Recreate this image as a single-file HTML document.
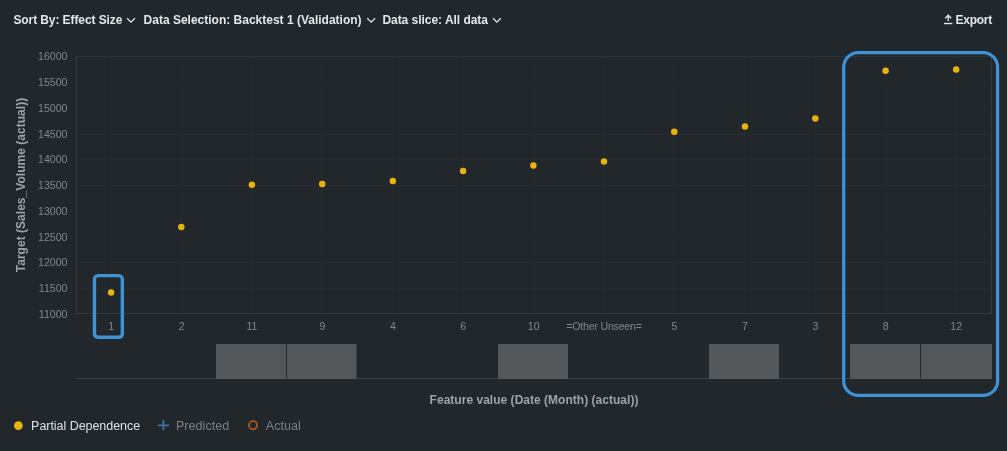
<!DOCTYPE html>
<html><head><meta charset="utf-8"><title>Partial Dependence</title>
<style>
html,body{margin:0;padding:0;background:#22272b;}
body{width:1007px;height:451px;overflow:hidden;font-family:"Liberation Sans",sans-serif;}
svg{display:block}
text{font-family:"Liberation Sans",sans-serif;}
.hd{font-size:12px;font-weight:bold;fill:#e4e7e9;}
.tk{font-size:10.6px;fill:#80868a;}
.ax{font-size:12px;font-weight:bold;fill:#9da3a8;}
.lg{font-size:12.5px;}
</style></head><body>
<svg width="1007" height="451" viewBox="0 0 1007 451">
<rect width="1007" height="451" fill="#22272b"/>
<g stroke="#262b2f" stroke-width="1" shape-rendering="crispEdges"><line x1="76" x2="992" y1="82.5" y2="82.5"/><line x1="76" x2="992" y1="108.5" y2="108.5"/><line x1="76" x2="992" y1="134.5" y2="134.5"/><line x1="76" x2="992" y1="159.5" y2="159.5"/><line x1="76" x2="992" y1="185.5" y2="185.5"/><line x1="76" x2="992" y1="211.5" y2="211.5"/><line x1="76" x2="992" y1="237.5" y2="237.5"/><line x1="76" x2="992" y1="262.5" y2="262.5"/><line x1="76" x2="992" y1="288.5" y2="288.5"/><line x1="111.5" x2="111.5" y1="56" y2="314"/><line x1="181.5" x2="181.5" y1="56" y2="314"/><line x1="251.5" x2="251.5" y1="56" y2="314"/><line x1="322.5" x2="322.5" y1="56" y2="314"/><line x1="392.5" x2="392.5" y1="56" y2="314"/><line x1="463.5" x2="463.5" y1="56" y2="314"/><line x1="533.5" x2="533.5" y1="56" y2="314"/><line x1="604.5" x2="604.5" y1="56" y2="314"/><line x1="674.5" x2="674.5" y1="56" y2="314"/><line x1="744.5" x2="744.5" y1="56" y2="314"/><line x1="815.5" x2="815.5" y1="56" y2="314"/><line x1="885.5" x2="885.5" y1="56" y2="314"/><line x1="956.5" x2="956.5" y1="56" y2="314"/></g>
<path d="M76.5 56v258M76 313.5h916M991.5 56v258" fill="none" stroke="#363b3f" stroke-width="1" shape-rendering="crispEdges"/><path d="M77 56.5h914" fill="none" stroke="#2e3337" stroke-width="1" shape-rendering="crispEdges"/>
<text class="tk" x="67.5" y="60.4" text-anchor="end">16000</text><text class="tk" x="67.5" y="86.1" text-anchor="end">15500</text><text class="tk" x="67.5" y="111.9" text-anchor="end">15000</text><text class="tk" x="67.5" y="137.6" text-anchor="end">14500</text><text class="tk" x="67.5" y="163.3" text-anchor="end">14000</text><text class="tk" x="67.5" y="189.1" text-anchor="end">13500</text><text class="tk" x="67.5" y="214.8" text-anchor="end">13000</text><text class="tk" x="67.5" y="240.5" text-anchor="end">12500</text><text class="tk" x="67.5" y="266.2" text-anchor="end">12000</text><text class="tk" x="67.5" y="292.0" text-anchor="end">11500</text><text class="tk" x="67.5" y="317.7" text-anchor="end">11000</text>
<text class="tk" x="111.2" y="330" text-anchor="middle">1</text><text class="tk" x="181.6" y="330" text-anchor="middle">2</text><text class="tk" x="252.0" y="330" text-anchor="middle">11</text><text class="tk" x="322.4" y="330" text-anchor="middle">9</text><text class="tk" x="392.9" y="330" text-anchor="middle">4</text><text class="tk" x="463.3" y="330" text-anchor="middle">6</text><text class="tk" x="533.7" y="330" text-anchor="middle">10</text><text class="tk" x="604.1" y="330" text-anchor="middle" textLength="75.6">=Other Unseen=</text><text class="tk" x="674.5" y="330" text-anchor="middle">5</text><text class="tk" x="745.0" y="330" text-anchor="middle">7</text><text class="tk" x="815.4" y="330" text-anchor="middle">3</text><text class="tk" x="885.8" y="330" text-anchor="middle">8</text><text class="tk" x="956.2" y="330" text-anchor="middle">12</text>
<line x1="76" x2="992" y1="378.5" y2="378.5" stroke="#3d4246" stroke-width="1" shape-rendering="crispEdges"/>
<rect x="216" y="344" width="70" height="35" fill="#53575a"/><rect x="287" y="344" width="69.5" height="35" fill="#53575a"/><rect x="498" y="344" width="70" height="35" fill="#53575a"/><rect x="709" y="344" width="70" height="35" fill="#53575a"/><rect x="850" y="344" width="70" height="35" fill="#53575a"/><rect x="921" y="344" width="71" height="35" fill="#53575a"/>
<circle cx="111.1" cy="292.6" r="3.25" fill="#e9b30f"/><circle cx="181.3" cy="227.0" r="3.25" fill="#e9b30f"/><circle cx="251.9" cy="184.7" r="3.25" fill="#e9b30f"/><circle cx="322.2" cy="184.1" r="3.25" fill="#e9b30f"/><circle cx="392.8" cy="181.1" r="3.25" fill="#e9b30f"/><circle cx="463.1" cy="171.0" r="3.25" fill="#e9b30f"/><circle cx="533.4" cy="165.4" r="3.25" fill="#e9b30f"/><circle cx="604.0" cy="161.5" r="3.25" fill="#e9b30f"/><circle cx="674.3" cy="131.7" r="3.25" fill="#e9b30f"/><circle cx="745.0" cy="126.4" r="3.25" fill="#e9b30f"/><circle cx="815.3" cy="118.6" r="3.25" fill="#e9b30f"/><circle cx="885.6" cy="70.7" r="3.25" fill="#e9b30f"/><circle cx="956.2" cy="69.5" r="3.25" fill="#e9b30f"/>
<rect x="94.45" y="275.6" width="27.9" height="61.7" rx="3.5" fill="none" stroke="#3d93d5" stroke-width="3.45"/>
<rect x="843.7" y="52.6" width="153.9" height="342.8" rx="14.5" fill="none" stroke="#3d93d5" stroke-width="3.25"/>
<text class="ax" x="534" y="403.7" text-anchor="middle" textLength="208.8">Feature value (Date (Month) (actual))</text>
<text class="ax" transform="translate(25.0,185.05) rotate(-90)" text-anchor="middle" textLength="174.5">Target (Sales_Volume (actual))</text>
<text class="hd" x="13.4" y="23.8" textLength="109">Sort By: Effect Size</text>
<text class="hd" x="143.6" y="23.8" textLength="218">Data Selection: Backtest 1 (Validation)</text>
<text class="hd" x="382.4" y="23.8" textLength="105.6">Data slice: All data</text>
<path d="M127.1 18.3 l3.9 3.9 l3.9 -3.9" fill="none" stroke="#e4e7e9" stroke-width="1.3"/><path d="M367.3 18.3 l3.9 3.9 l3.9 -3.9" fill="none" stroke="#e4e7e9" stroke-width="1.3"/><path d="M493.0 18.3 l3.9 3.9 l3.9 -3.9" fill="none" stroke="#e4e7e9" stroke-width="1.3"/>
<g fill="none" stroke="#e4e7e9" stroke-width="1.4"><path d="M944 23.5h8.4"/><path d="M948.2 21v-5.2"/><path d="M945.2 18.3l3-3 3 3"/></g>
<text class="hd" x="955.6" y="23.8" textLength="36.6">Export</text>
<circle cx="18.4" cy="425.6" r="4.4" fill="#e9b30f"/><text class="lg" x="31.1" y="430.3" fill="#dfe2e4" textLength="109">Partial Dependence</text>
<path d="M157.9 425.3h11.2M163.4 420v10.3" stroke="#3a75a4" stroke-width="1.8" fill="none"/><text class="lg" x="175.9" y="430.3" fill="#7b8185" textLength="53.4">Predicted</text>
<circle cx="253.05" cy="425.1" r="4.1" fill="none" stroke="#9e5421" stroke-width="1.9"/><text class="lg" x="265.8" y="430.3" fill="#7b8185" textLength="35">Actual</text>
</svg></body></html>
